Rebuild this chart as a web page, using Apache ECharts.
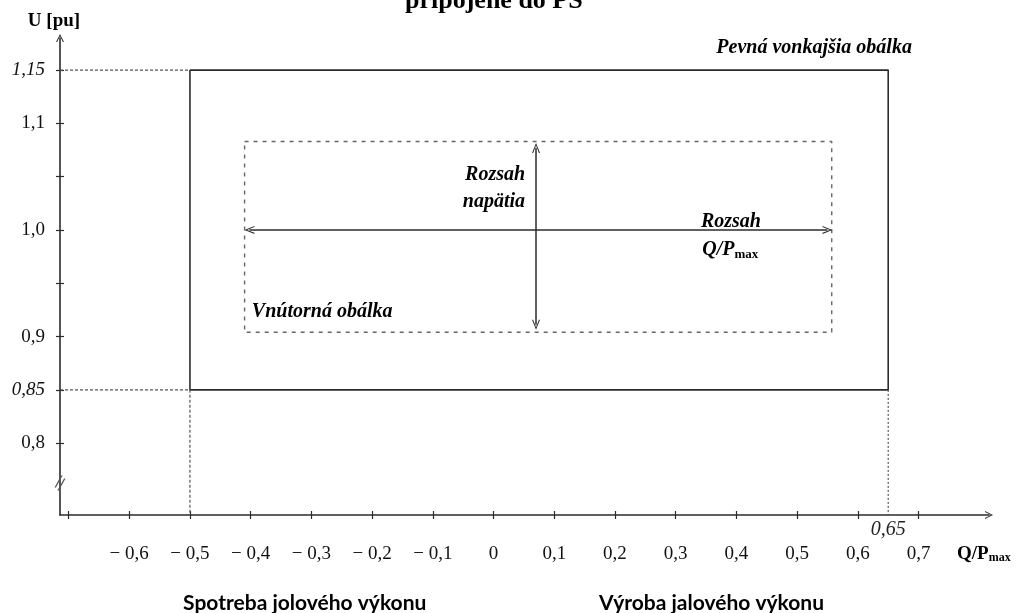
<!DOCTYPE html>
<html><head><meta charset="utf-8">
<script src="https://cdn.jsdelivr.net/npm/echarts@6/dist/echarts.min.js"></script>
<style>html,body{margin:0;padding:0;background:#fff}#c{width:1016px;height:613px}</style>
</head><body><div id="c"></div>
<script>
// axis ranges (Q/Pmax on x, U [pu] on y)
const Q_MIN = -0.714, Q_MAX = 0.816;
const U_MIN = 0.7326, U_MAX = 1.1801;
const xTickValues = [-0.7,-0.6,-0.5,-0.4,-0.3,-0.2,-0.1,0,0.1,0.2,0.3,0.4,0.5,0.6,0.7];
const xLabelValues = [-0.6,-0.5,-0.4,-0.3,-0.2,-0.1,0,0.1,0.2,0.3,0.4,0.5,0.6,0.7];
const yTickValues = [0.8,0.85,0.9,0.95,1.0,1.05,1.1,1.15];
const yLabelValues = [0.8,0.85,0.9,1.0,1.1,1.15];
const yItalicLabels = [0.85,1.15];
// envelopes
const outerEnvelope = [[-0.5,1.15],[0.65,1.15],[0.65,0.85],[-0.5,0.85],[-0.5,1.15]];
const innerEnvelope = [[-0.41,1.083],[0.557,1.083],[0.557,0.904],[-0.41,0.904],[-0.41,1.083]];
const guideTop = [[Q_MIN,1.15],[-0.5,1.15]];
const guideBottom = [[Q_MIN,0.85],[-0.5,0.85]];
const guideLeft = [[-0.5,0.85],[-0.5,U_MIN]];
const guideRight = [[0.65,0.85],[0.65,U_MIN]];
// range arrows
const qRangeArrow = [[-0.402,1.0],[0.55,1.0]];
const uRangeArrow = [[0.07,1.077],[0.07,0.911]];
// texts
const titleText = 'pripojené do PS';
const yAxisName = 'U [pu]';
const outerLabel = {text:'Pevná vonkajšia obálka', at:[0.689,1.1707]};
const innerLabel = {text:'Vnútorná obálka', at:[-0.398,0.923]};
const uRangeLabel = {text:'Rozsah\nnapätia', at:[0.052,1.039]};
const qRangeLabel1 = {text:'Rozsah', at:[0.391,1.0075]};
const qRangeLabel2 = {text:'{b|Q/P}{s|max}', at:[0.39,0.981]};
const qMarkLabel = {text:'0,65', at:[0.65,U_MIN]};
const consumeLabel = {text:'Spotreba jolového výkonu', at:[-0.311,U_MIN]};
const produceLabel = {text:'Výroba jalového výkonu', at:[0.359,U_MIN]};
const breakMark = [Q_MIN,0.7627];

const SERIF = '"Liberation Serif", "DejaVu Serif", serif';
const SANS = 'Lato, "Open Sans", sans-serif';
const DARK = '#2b2b2b';
const chevron = 'path://M0,10 L5,0 L10,10 L8.6,10 L5,2.6 L1.4,10 Z';

function fmt(v){ let s = String(Math.abs(v)); if (s.indexOf('.')<0 && v!==0) s += '.0'; s = s.replace('.',','); return v<0 ? '\u2212 '+s : s; }

function textSeries(item, opts){
  return {
    type:'scatter', symbolSize:0, silent:true, clip:false, z:5,
    itemStyle:{opacity:1},
    data:[item.at],
    label:Object.assign({show:true, position:'inside', formatter:item.text,
      color:'#000', fontFamily:SERIF, fontSize:20, fontWeight:'bold', fontStyle:'italic'}, opts.label||{})
  };
}

const chart = echarts.init(document.getElementById('c'));
const axisCommonX = {type:'value', min:Q_MIN, max:Q_MAX, splitLine:{show:false}};
const axisCommonY = {type:'value', min:U_MIN, max:U_MAX, splitLine:{show:false}};
chart.setOption({
  backgroundColor:'#fff',
  animation:false,
  title:{text:titleText, left:405, top:-12, padding:0,
    textStyle:{fontFamily:SERIF, fontSize:26, fontWeight:'bold', color:'#000'}},
  grid:{left:60, right:27, top:38, bottom:98, containLabel:false},
  xAxis:[
    Object.assign({}, axisCommonX, {
      position:'bottom',
      axisLine:{show:true, onZero:false, lineStyle:{color:DARK, width:1.6}, symbol:['none', chevron], symbolSize:[8,10]},
      axisTick:{show:true, length:4, customValues:xTickValues, lineStyle:{color:DARK, width:1.2}},
      axisLabel:{show:true, customValues:xLabelValues, formatter:fmt, margin:30,
        fontFamily:SERIF, fontSize:19, color:'#111'},
      name:'{b|Q/P}{s|max}', nameLocation:'end', nameGap:-32,
      nameTextStyle:{align:'left', verticalAlign:'top', padding:[29,0,0,0],
        rich:{b:{fontFamily:SERIF, fontSize:19, fontWeight:'bold', color:'#000'},
              s:{fontFamily:SERIF, fontSize:12, fontWeight:'bold', color:'#000', padding:[8,0,0,0]}}}
    }),
    Object.assign({}, axisCommonX, {
      position:'bottom', axisLine:{show:false, onZero:false},
      axisTick:{show:true, inside:true, length:4, customValues:xTickValues, lineStyle:{color:DARK, width:1.2}},
      axisLabel:{show:false}
    })
  ],
  yAxis:[
    Object.assign({}, axisCommonY, {
      position:'left',
      axisLine:{show:true, onZero:false, lineStyle:{color:DARK, width:1.6}, symbol:['none', chevron], symbolSize:[8,10]},
      axisTick:{show:true, length:4, customValues:yTickValues, lineStyle:{color:DARK, width:1.2}},
      axisLabel:{show:true, customValues:yLabelValues, margin:15,
        formatter:function(v){ const s = fmt(v); return yItalicLabels.indexOf(v)>=0 ? '{i|'+s+'}' : '{n|'+s+'}'; },
        rich:{i:{fontFamily:SERIF, fontSize:19, fontStyle:'italic', color:'#111'},
              n:{fontFamily:SERIF, fontSize:19, color:'#111'}}},
      name:yAxisName, nameLocation:'end', nameGap:7,
      nameTextStyle:{fontFamily:SERIF, fontSize:19, fontWeight:'bold', color:'#000', padding:[0,12,0,0]}
    }),
    Object.assign({}, axisCommonY, {
      position:'left', axisLine:{show:false, onZero:false},
      axisTick:{show:true, inside:true, length:4, customValues:yTickValues, lineStyle:{color:DARK, width:1.2}},
      axisLabel:{show:false}
    })
  ],
  series:[
    {type:'line', data:outerEnvelope, symbol:'none', silent:true, lineStyle:{color:DARK, width:1.6}},
    {type:'line', data:innerEnvelope, symbol:'none', silent:true, lineStyle:{color:'#666', width:1.4, type:[4,5]}},
    {type:'line', data:guideTop, symbol:'none', silent:true, lineStyle:{color:'#555', width:1.2, type:[3,2]}},
    {type:'line', data:guideBottom, symbol:'none', silent:true, lineStyle:{color:'#555', width:1.2, type:[3,2]}},
    {type:'line', data:guideLeft, symbol:'none', silent:true, lineStyle:{color:'#555', width:1.2, type:[3,2]}},
    {type:'line', data:guideRight, symbol:'none', silent:true, lineStyle:{color:'#555', width:1.2, type:[2,2]}},
    {type:'line', data:[], silent:true,
      markLine:{silent:true, symbol:[chevron, chevron], symbolSize:[8,10], label:{show:false},
        lineStyle:{color:DARK, width:1.5, type:'solid'},
        data:[[{coord:qRangeArrow[0]},{coord:qRangeArrow[1]}],[{coord:uRangeArrow[0]},{coord:uRangeArrow[1]}]]}},
    {type:'scatter', data:[breakMark], silent:true, clip:false, z:6,
      symbol:'path://M0,12 L7,0 L8.5,0 L1.5,12 Z M3,15 L10,3 L11.5,3 L4.5,15 Z', symbolSize:[11,15],
      itemStyle:{color:'#555', opacity:1}},
    textSeries(outerLabel, {label:{align:'right'}}),
    textSeries(innerLabel, {label:{align:'left'}}),
    textSeries(uRangeLabel, {label:{align:'right', lineHeight:27}}),
    textSeries(qRangeLabel1, {label:{align:'center'}}),
    textSeries(qRangeLabel2, {label:{align:'center',
      rich:{b:{fontFamily:SERIF, fontSize:20, fontWeight:'bold', fontStyle:'italic', color:'#000'},
            s:{fontFamily:SERIF, fontSize:13, fontWeight:'bold', fontStyle:'normal', color:'#000', padding:[8,0,0,0]}}}}),
    textSeries(qMarkLabel, {label:{align:'center', fontWeight:'normal', fontSize:20, color:'#222', offset:[0,15]}}),
    textSeries(consumeLabel, {label:{align:'center', fontFamily:SANS, fontStyle:'normal', fontSize:21, offset:[0,88]}}),
    textSeries(produceLabel, {label:{align:'center', fontFamily:SANS, fontStyle:'normal', fontSize:21, offset:[0,88]}})
  ]
});
</script></body></html>
